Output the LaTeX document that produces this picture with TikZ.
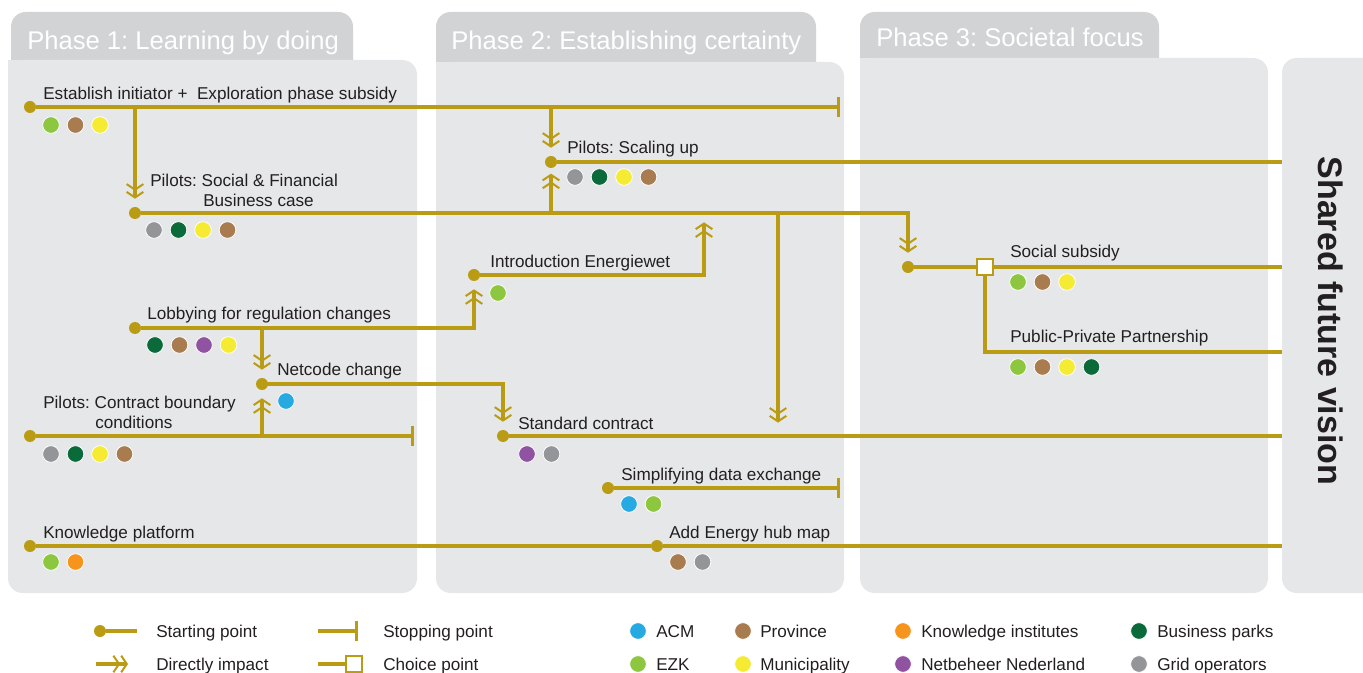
\documentclass[tikz,border=0pt]{standalone}
\usepackage{fontspec}
\setmainfont{Liberation Sans}
\usetikzlibrary{arrows.meta}
\frenchspacing

\definecolor{gold}{RGB}{185,155,20}
\definecolor{panel}{RGB}{230,231,232}
\definecolor{tabc}{RGB}{209,211,212}
\definecolor{ink}{RGB}{35,31,32}
\definecolor{cACM}{RGB}{39,170,225}
\definecolor{cEZK}{RGB}{141,198,63}
\definecolor{cPRO}{RGB}{169,124,80}
\definecolor{cMUN}{RGB}{245,235,50}
\definecolor{cKNO}{RGB}{247,148,29}
\definecolor{cNET}{RGB}{144,83,161}
\definecolor{cBUS}{RGB}{11,106,58}
\definecolor{cGRI}{RGB}{147,149,152}

\newcommand\lblfont{\fontsize{12.85pt}{15pt}\selectfont}
\newcommand\tabfont{\fontsize{19.2pt}{22pt}\selectfont}
\newcommand\visfont{\fontsize{25.5pt}{30pt}\selectfont\bfseries}

\tikzset{
  track/.style={draw=gold,line width=2.3pt},
  startdot/.style={circle,fill=gold,inner sep=0pt,minimum size=9pt},
  actor/.style={circle,fill=#1,draw=white,line width=0.6pt,inner sep=0pt,minimum size=12.5pt},
  lbl/.style={anchor=base west,inner sep=0pt,text=ink,font=\lblfont},
  tabtxt/.style={anchor=base west,inner sep=0pt,text=white,font=\tabfont},
  impact/.style={-{Straight Barb[length=4.2pt,width=12.5pt,line width=1.5pt]
                   Straight Barb[length=4.2pt,width=12.5pt,line width=1.5pt]}},
  stopend/.style={-{Bar[width=15pt,line width=2.3pt]}},
  choice/.style={rectangle,draw=gold,fill=white,line width=1.6pt,minimum size=11.5pt,inner sep=0pt},
}

% a row of coloured actor dots, named <name>-0, <name>-1, ...
\newcommand\actorrow[4]{%
  \foreach \c [count=\i from 0] in {#4} {
    \node[actor=\c] (#1-\i) at ({#2+24.5*\i},#3) {};
  }}

\begin{document}
\begin{tikzpicture}[x=0.75pt,y=-0.75pt]
\useasboundingbox (0,0) rectangle (1363,673);
\clip (0,0) rectangle (1363,673);

% ---------- phase panels ----------
\fill[tabc,rounded corners=11pt] (11,12) rectangle (353,80);
\fill[panel,rounded corners=11pt] (8,60) rectangle (417,593);
\fill[panel] (8,60) rectangle (40,90);
\node[tabtxt] (ph1) at (27,50) {Phase 1: Learning by doing};

\fill[tabc,rounded corners=11pt] (436,12) rectangle (816,80);
\fill[panel,rounded corners=11pt] (436,62) rectangle (844,593);
\fill[panel] (436,62) rectangle (470,90);
\node[tabtxt] (ph2) at (451,50) {Phase 2: Establishing certainty};

\fill[tabc,rounded corners=11pt] (860,12) rectangle (1159,80);
\fill[panel,rounded corners=11pt] (860,58) rectangle (1268,593);
\fill[panel] (860,58) rectangle (890,90);
\node[tabtxt] (ph3) at (876,47) {Phase 3: Societal focus};

\fill[panel,rounded corners=11pt] (1282,58) rectangle (1420,593);
\node[rotate=-90,text=ink,font=\visfont,inner sep=0pt] (vis) at (1331,321) {Shared future vision};

% ---------- milestones ----------
\node[startdot] (est) at (30,107) {};
\node[lbl] (est-l) at (43,100) {Establish initiator +\ \ Exploration phase subsidy};
\actorrow{est}{51}{125}{cEZK,cPRO,cMUN}
\coordinate (est-stop) at (840,107);

\node[startdot] (psoc) at (135,213) {};
\node[lbl] (psoc-l1) at (150,187) {Pilots: Social \& Financial};
\node[lbl] (psoc-l2) at (203,207) {Business case};
\actorrow{psoc}{154}{230}{cGRI,cBUS,cMUN,cPRO}

\node[startdot] (scal) at (551,162) {};
\node[lbl] (scal-l) at (567,154) {Pilots: Scaling up};
\actorrow{scal}{575}{177}{cGRI,cBUS,cMUN,cPRO}
\coordinate (scal-end) at (1282,162);

\node[startdot] (lob) at (135,328) {};
\node[lbl] (lob-l) at (147,320) {Lobbying for regulation changes};
\actorrow{lob}{155}{345}{cBUS,cPRO,cNET,cMUN}

\node[startdot] (ien) at (474,275) {};
\node[lbl] (ien-l) at (490,268) {Introduction Energiewet};
\actorrow{ien}{498}{293}{cEZK}
\coordinate (j3) at (704,213);

\node[startdot] (net) at (262,384) {};
\node[lbl] (net-l) at (277,376) {Netcode change};
\actorrow{net}{286}{401}{cACM}

\node[startdot] (pcb) at (30,436) {};
\node[lbl] (pcb-l1) at (43,408) {Pilots: Contract boundary};
\node[lbl] (pcb-l2) at (95,428) {conditions};
\actorrow{pcb}{51}{454}{cGRI,cBUS,cMUN,cPRO}
\coordinate (pcb-stop) at (414,436);

\node[startdot] (std) at (503,436) {};
\node[lbl] (std-l) at (518,429) {Standard contract};
\actorrow{std}{527}{454}{cNET,cGRI}
\coordinate (std-end) at (1282,436);
\coordinate (j1) at (778,213);

\node[startdot] (sde) at (608,488) {};
\node[lbl] (sde-l) at (621,480) {Simplifying data exchange};
\actorrow{sde}{629}{504}{cACM,cEZK}
\coordinate (sde-stop) at (840,488);

\node[startdot] (kno) at (30,546) {};
\node[lbl] (kno-l) at (43,538) {Knowledge platform};
\actorrow{kno}{51}{562}{cEZK,cKNO}

\node[startdot] (hub) at (657,546) {};
\node[lbl] (hub-l) at (669,538) {Add Energy hub map};
\actorrow{hub}{678}{562}{cPRO,cGRI}
\coordinate (hub-end) at (1282,546);

\node[startdot] (socs) at (908,267) {};
\node[lbl] (socs-l) at (1010,258) {Social subsidy};
\node[choice] (cho) at (985,267) {};
\actorrow{socs}{1018}{282}{cEZK,cPRO,cMUN}
\coordinate (socs-end) at (1282,267);

\node[lbl] (ppp-l) at (1010,343) {Public-Private Partnership};
\actorrow{ppp}{1018}{367}{cEZK,cPRO,cMUN,cBUS}
\coordinate (ppp-end) at (1282,352);

% ---------- tracks ----------
\draw[track,stopend] (est) -- (est-stop);
\draw[track,impact,shorten >=6pt] (est -| psoc) -- (psoc);
\draw[track,impact,shorten >=6pt] (est -| scal) -- (scal);

\draw[track,impact,shorten >=6pt] (psoc) -| (socs);
\draw[track,impact,shorten >=4pt] (psoc -| scal) -- (scal);
\draw[track,impact,shorten >=10pt] (j1) -- (j1 |- std);

\draw[track] (scal) -- (scal-end);

\draw[track,impact,shorten >=6pt] (lob) -| (ien);
\draw[track,impact,shorten >=6pt] (lob -| net) -- (net);
\draw[track,impact,shorten >=7pt] (ien) -| (j3);

\draw[track,impact,shorten >=6pt] (net) -| (std);
\draw[track,stopend] (pcb) -- (pcb-stop);
\draw[track,impact,shorten >=6pt] (pcb -| net) -- (net);

\draw[track] (std) -- (std-end);
\draw[track,stopend] (sde) -- (sde-stop);
\draw[track] (kno) -- (hub);
\draw[track] (hub) -- (hub-end);

\draw[track] (socs) -- (cho);
\draw[track] (cho) -- (socs-end);
\draw[track] (cho) |- (ppp-end);

% ---------- legend ----------
\node[startdot] (lg-start) at (100,631) {};
\coordinate (lg-start-e) at (137,631);
\draw[track] (lg-start) -- (lg-start-e);
\node[lbl] (lg-start-l) at (156,637) {Starting point};

\coordinate (lg-imp-s) at (96,664);
\coordinate (lg-imp-e) at (128,664);
\draw[track,impact] (lg-imp-s) -- (lg-imp-e);
\node[lbl] (lg-imp-l) at (156,670) {Directly impact};

\coordinate (lg-stop-s) at (318,631);
\coordinate (lg-stop-e) at (358,631);
\draw[track,stopend] (lg-stop-s) -- (lg-stop-e);
\node[lbl] (lg-stop-l) at (383,637) {Stopping point};

\coordinate (lg-cho-s) at (318,664);
\node[choice] (lg-cho) at (354,664) {};
\draw[track] (lg-cho-s) -- (lg-cho);
\node[lbl] (lg-cho-l) at (383,670) {Choice point};

\node[actor=cACM] (lg-acm) at (638,631) {};
\node[lbl] at (656,637) {ACM};
\node[actor=cEZK] (lg-ezk) at (638,664) {};
\node[lbl] at (656,670) {EZK};
\node[actor=cPRO] (lg-pro) at (743,631) {};
\node[lbl] at (760,637) {Province};
\node[actor=cMUN] (lg-mun) at (743,664) {};
\node[lbl] at (760,670) {Municipality};
\node[actor=cKNO] (lg-kno) at (903,631) {};
\node[lbl] at (921,637) {Knowledge institutes};
\node[actor=cNET] (lg-net) at (903,664) {};
\node[lbl] at (921,670) {Netbeheer Nederland};
\node[actor=cBUS] (lg-bus) at (1139,631) {};
\node[lbl] at (1157,637) {Business parks};
\node[actor=cGRI] (lg-gri) at (1139,664) {};
\node[lbl] at (1157,670) {Grid operators};
\end{tikzpicture}
\end{document}
